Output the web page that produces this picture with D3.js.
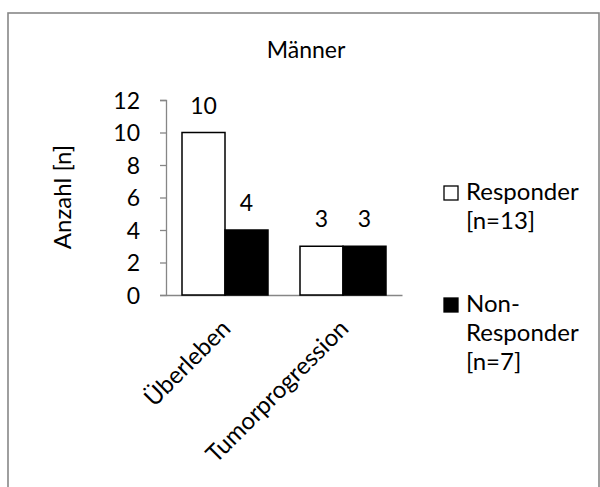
<!DOCTYPE html>
<html>
<head>
<meta charset="utf-8">
<script src="https://cdn.jsdelivr.net/npm/d3@7"></script>
<style>
  body { margin: 0; background: #fff; }
  text { font-family: Lato, "Open Sans", sans-serif; fill: #000; }
</style>
</head>
<body>
<div id="chart"></div>
<script>
const WIDTH = 600;
const HEIGHT = 487;

// data
const categories = ["Überleben", "Tumorprogression"];
const seriesNames = ["Responder", "Non-Responder"];
const responder = [10, 3];
const nonResponder = [4, 3];
const legendLines = [["Responder", "[n=13]"], ["Non-", "Responder", "[n=7]"]];
const yTicks = [0, 2, 4, 6, 8, 10, 12];
const title = "Männer";
const yTitle = "Anzahl [n]";

const fills = ["#ffffff", "#000000"];
const FONT = 23;
const BIG = 24;

const svg = d3.select("#chart").append("svg")
  .attr("width", WIDTH)
  .attr("height", HEIGHT);

// outer frame (runs past the bottom of the picture)
svg.append("rect")
  .attr("x", 8)
  .attr("y", 13)
  .attr("width", 591)
  .attr("height", 500)
  .attr("fill", "none")
  .attr("stroke", "#878787")
  .attr("stroke-width", 1.6);

const x0 = d3.scaleBand()
  .domain(categories)
  .range([166, 402]);

const x1 = d3.scaleBand()
  .domain(seriesNames)
  .range([16, x0.bandwidth() - 16]);

const y = d3.scaleLinear()
  .domain([0, 12])
  .range([295, 100]);

// y axis
const yAxisCall = d3.axisLeft(y)
  .tickValues(yTicks)
  .tickSize(6)
  .tickPadding(20);

const yAxis = svg.append("g")
  .attr("transform", "translate(166, 0)")
  .call(yAxisCall);
yAxis.select(".domain").attr("stroke", "#868686").attr("stroke-width", 1.3);
yAxis.selectAll(".tick line").attr("stroke", "#868686").attr("stroke-width", 1.3);
yAxis.selectAll(".tick text")
  .style("font-size", FONT + "px")
  .attr("dy", "0.36em");

// x axis baseline
const xAxisCall = d3.axisBottom(x0)
  .tickSize(0)
  .tickFormat("");
const xAxis = svg.append("g")
  .attr("transform", `translate(0, ${y(0)})`)
  .call(xAxisCall);
xAxis.select(".domain").attr("stroke", "#868686").attr("stroke-width", 1.3);

// bars
const rows = categories.map((c, i) => ({
  category: c,
  values: [
    { name: seriesNames[0], value: responder[i], fill: fills[0] },
    { name: seriesNames[1], value: nonResponder[i], fill: fills[1] }
  ]
}));

const groups = svg.selectAll(".group")
  .data(rows)
  .enter().append("g")
  .attr("class", "group")
  .attr("transform", d => `translate(${x0(d.category)}, 0)`);

groups.selectAll("rect")
  .data(d => d.values)
  .enter().append("rect")
  .attr("x", d => x1(d.name))
  .attr("y", d => y(d.value))
  .attr("width", x1.bandwidth())
  .attr("height", d => y(0) - y(d.value))
  .attr("fill", d => d.fill)
  .attr("stroke", "#000")
  .attr("stroke-width", 1.5);

groups.selectAll(".val")
  .data(d => d.values)
  .enter().append("text")
  .attr("class", "val")
  .attr("x", d => x1(d.name) + x1.bandwidth() / 2)
  .attr("y", d => y(d.value) - 19)
  .attr("text-anchor", "middle")
  .style("font-size", FONT + "px")
  .text(d => d.value);

// category labels, rotated
svg.selectAll(".cat")
  .data(categories)
  .enter().append("text")
  .attr("class", "cat")
  .attr("text-anchor", "end")
  .attr("transform", d => `translate(${x0(d) + x0.bandwidth() / 2 + 7}, 330) rotate(-45)`)
  .style("font-size", BIG + "px")
  .text(d => d);

// title
svg.append("text")
  .attr("x", 306)
  .attr("y", 58)
  .attr("text-anchor", "middle")
  .style("font-size", FONT + "px")
  .text(title);

// y title
svg.append("text")
  .attr("transform", "translate(71, 197) rotate(-90)")
  .attr("text-anchor", "middle")
  .style("font-size", BIG + "px")
  .text(yTitle);

// legend
const legendTop = [200, 312];
const legend = svg.selectAll(".legend")
  .data(legendLines)
  .enter().append("g")
  .attr("class", "legend")
  .attr("transform", (d, i) => `translate(444, ${legendTop[i]})`);

legend.append("rect")
  .attr("x", 0)
  .attr("y", -14)
  .attr("width", 14)
  .attr("height", 14)
  .attr("fill", (d, i) => fills[i])
  .attr("stroke", "#000")
  .attr("stroke-width", 1.3);

legend.append("text")
  .attr("x", 22)
  .attr("y", 0)
  .style("font-size", BIG + "px")
  .selectAll("tspan")
  .data(d => d)
  .enter().append("tspan")
  .attr("x", 22)
  .attr("dy", (d, i) => i === 0 ? 0 : 29)
  .text(d => d);
</script>
</body>
</html>
